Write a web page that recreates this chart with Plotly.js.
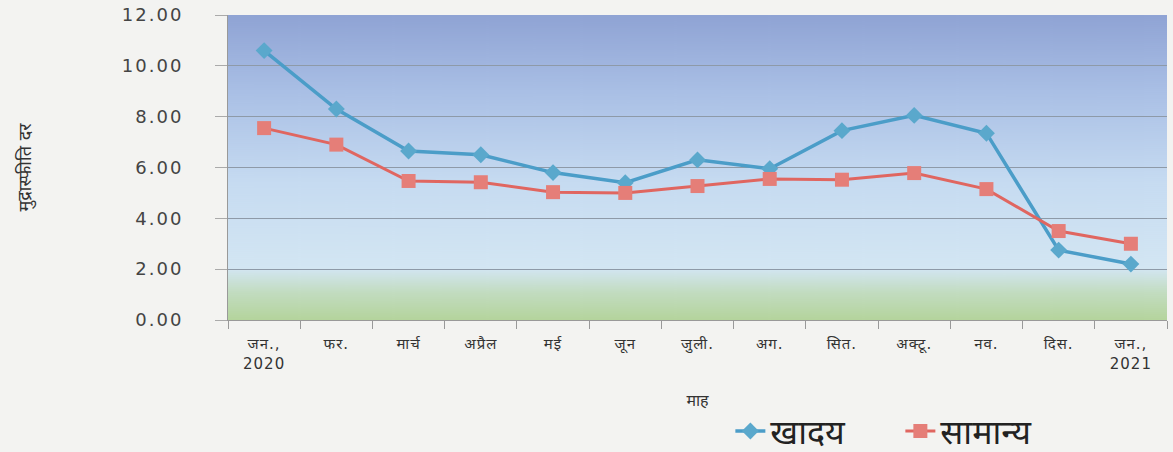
<!DOCTYPE html>
<html>
<head>
<meta charset="utf-8">
<script src="https://cdn.plot.ly/plotly-3.0.1.min.js"></script>
<style>
html,body{margin:0;padding:0;background:#f3f3f1;}
#chart{width:1173px;height:452px;}
#chart .ytick text{letter-spacing:2px;}
#chart .xtick text{letter-spacing:1px;}
</style>
</head>
<body>
<div id="chart"></div>
<script>
// Data
const months = ["जन.,<br>2020", "फर.", "मार्च", "अप्रैल", "मई", "जून", "जुली.", "अग.", "सित.", "अक्टू.", "नव.", "दिस.", "जन.,<br>2021"];
const khadya = [10.60, 8.30, 6.65, 6.50, 5.80, 5.40, 6.30, 5.95, 7.45, 8.05, 7.35, 2.75, 2.20];
const samanya = [7.55, 6.90, 5.47, 5.42, 5.03, 5.00, 5.27, 5.55, 5.52, 5.78, 5.15, 3.50, 3.00];
const seriesNames = ["खादय", "सामान्य"];

// background gradient for plot area
const cv = document.createElement('canvas');
cv.width = 20; cv.height = 305;
const ctx = cv.getContext('2d');
const g = ctx.createLinearGradient(0, 0, 0, 305);
g.addColorStop(0.00, '#8fa3d4');
g.addColorStop(0.25, '#a9bfe5');
g.addColorStop(0.55, '#c6dbf1');
g.addColorStop(0.83, '#d3e6f3');
g.addColorStop(0.91, '#c2dcc0');
g.addColorStop(1.00, '#b4d49c');
ctx.fillStyle = g;
ctx.fillRect(0, 0, 20, 305);
const bgUrl = cv.toDataURL('image/png');

const font = "DejaVu Sans, Noto Sans, sans-serif";

const traces = [
  {
    x: months, y: khadya, name: seriesNames[0], type: 'scatter', mode: 'lines+markers',
    line: {color: '#4b9dc8', width: 3.5},
    marker: {symbol: 'diamond', size: 13, color: '#5aa8cc', line: {width: 0}}
  },
  {
    x: months, y: samanya, name: seriesNames[1], type: 'scatter', mode: 'lines+markers',
    line: {color: '#e06660', width: 3},
    marker: {symbol: 'square', size: 14, color: '#e57e78', line: {width: 0}}
  }
];

const layout = {
  width: 1173, height: 452,
  margin: {l: 228, r: 6, t: 15, b: 132, autoexpand: false},
  paper_bgcolor: '#f3f3f1',
  plot_bgcolor: 'rgba(0,0,0,0)',
  font: {family: font, color: '#333'},
  showlegend: true,
  legend: {
    orientation: 'h', x: 0.535, xanchor: 'left', y: -0.365, yanchor: 'middle',
    font: {size: 34, color: '#222', family: font},
    entrywidth: 125, entrywidthmode: 'pixels',
    bgcolor: 'rgba(0,0,0,0)', tracegroupgap: 0
  },
  xaxis: {
    type: 'category', automargin: false,
    tickson: 'boundaries', ticks: 'outside', ticklen: 8, tickcolor: '#999',
    showline: true, linecolor: '#999', linewidth: 1,
    showgrid: false,
    ticklabelstandoff: 10,
    tickfont: {size: 15, color: '#333', family: font},
    title: {text: 'माह', font: {size: 16, color: '#333', family: font}, standoff: 23},
    range: [-0.5, 12.5]
  },
  yaxis: {
    range: [0, 12], dtick: 2, tickformat: '.2f', automargin: false,
    ticks: 'outside', ticklen: 12, tickcolor: '#aaa',
    showline: true, linecolor: '#999', linewidth: 1,
    showgrid: true, gridcolor: '#8e9aa8', gridwidth: 1,
    zeroline: false,
    ticklabelstandoff: 28,
    tickfont: {size: 18, color: '#444', family: font},
    title: {text: 'मुद्रास्फीति दर', font: {size: 18, color: '#333', family: font}, standoff: 95}
  },
  images: [{
    source: bgUrl, xref: 'paper', yref: 'paper', x: 0, y: 1, sizex: 1, sizey: 1,
    sizing: 'stretch', layer: 'below', xanchor: 'left', yanchor: 'top'
  }]
};

Plotly.newPlot('chart', traces, layout, {staticPlot: true, displayModeBar: false});
</script>
</body>
</html>
